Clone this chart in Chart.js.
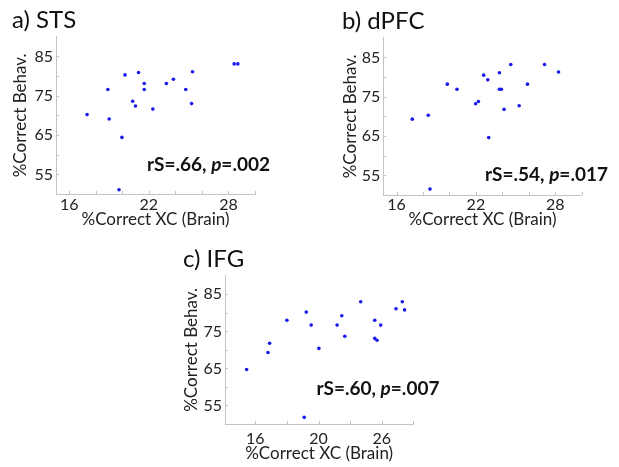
<!DOCTYPE html>
<html><head><meta charset="utf-8">
<script src="https://cdn.jsdelivr.net/npm/chart.js@4.4.1/dist/chart.umd.min.js"></script>
<style>
html,body{margin:0;padding:0;background:#fff;}
body{width:619px;height:467px;position:relative;overflow:hidden;}
canvas{position:absolute;display:block;}
</style></head><body>
<canvas id="ca" width="300" height="230" style="left:0;top:0"></canvas>
<canvas id="cb" width="289" height="230" style="left:330px;top:0"></canvas>
<canvas id="cc" width="290" height="227" style="left:170px;top:240px"></canvas>
<script>
// ---- data ----
const stsX  = [17.34,18.91,19.01,19.97,19.75,20.20,20.78,20.99,21.22,21.65,21.65,22.30,23.32,23.85,24.78,25.22,25.29,28.43,28.71];
const stsY  = [70.2,76.6,69.1,64.4,51.1,80.3,73.6,72.4,80.9,78.1,76.6,71.6,78.1,79.2,76.6,73.0,81.1,83.1,83.1];
const dpfcX = [17.19,18.40,18.53,19.84,20.57,21.98,22.19,22.59,22.90,22.97,23.78,23.78,23.93,24.13,24.64,25.27,25.90,27.19,28.25];
const dpfcY = [69.3,70.3,51.5,78.2,76.9,73.2,73.8,80.5,79.3,64.6,81.1,76.9,76.9,71.8,83.2,72.7,78.2,83.2,81.3];
const ifgX  = [15.31,17.00,17.13,18.50,19.87,20.03,20.42,21.03,22.47,22.84,23.08,24.34,25.45,25.45,25.63,25.92,27.13,27.63,27.81];
const ifgY  = [64.7,69.3,71.8,78.0,51.8,80.2,76.7,70.4,76.7,79.2,73.7,83.0,78.0,73.1,72.6,76.7,81.1,83.0,80.8];

const yTickValues  = [55,60,65,70,75,80,85];
const yTickLabels  = ['55','','65','','75','','85'];
const xTickValuesAB = [16,18,20,22,24,26,28,30];
const xTickLabelsAB = ['16','','','22','','','28',''];
const xTickValuesC  = [16,18.5,21,23.5,26,28.5];
const xTickLabelsC  = ['16','','20','','26',''];

const panelTitles = ['a) STS','b) dPFC','c) IFG'];
const statRs = ['.66','.54','.60'];
const statP  = ['.002','.017','.007'];
const xTitle = '%Correct XC (Brain)';
const yTitle = '%Correct Behav.';

// ---- style ----
const FONT = 'Lato, "Open Sans", sans-serif';
const TXT = '#222';
const AXIS = '#c4c4c4';
const BLUE = 'rgb(25,25,235)';

const tickMarks = { id:'tickMarks', afterDraw(chart){
  const c = chart.ctx, a = chart.chartArea, sx = chart.scales.x, sy = chart.scales.y;
  c.save(); c.strokeStyle = AXIS; c.lineWidth = 1;
  sx.ticks.forEach(t => { const p = Math.round(sx.getPixelForValue(t.value)) + 0.5;
    c.beginPath(); c.moveTo(p, a.bottom); c.lineTo(p, a.bottom - 3); c.stroke(); });
  sy.ticks.forEach(t => { const p = Math.round(sy.getPixelForValue(t.value)) + 0.5;
    c.beginPath(); c.moveTo(a.left, p); c.lineTo(a.left + 3, p); c.stroke(); });
  c.restore();
}};

const annot = { id:'annot', afterDraw(chart, args, o){
  const c = chart.ctx;
  let x = chart.scales.x.getPixelForValue(o.x);
  const y = chart.scales.y.getPixelForValue(o.y);
  c.save(); c.fillStyle = '#111'; c.textBaseline = 'middle'; c.textAlign = 'left';
  o.parts.forEach(p => {
    c.font = (p.italic ? 'italic ' : '') + 'bold ' + o.size + 'px ' + FONT;
    c.fillText(p.t, x, y); x += c.measureText(p.t).width;
  });
  c.restore();
}};

function panel(id, k, cfg){
  new Chart(document.getElementById(id), {
    type: 'scatter',
    data: { datasets: [{
      data: cfg.xs.map((x, i) => ({x: x, y: cfg.ys[i]})),
      pointRadius: 1.8, pointHoverRadius: 1.8, pointBorderWidth: 0,
      backgroundColor: BLUE, borderColor: BLUE
    }]},
    options: {
      responsive: false, animation: false, events: [],
      layout: { padding: cfg.pad },
      plugins: {
        legend: { display: false }, tooltip: { enabled: false },
        title: { display: true, text: panelTitles[k], align: 'start', color: '#111',
          font: { family: FONT, size: 24, weight: 'normal', lineHeight: 1.2 },
          padding: { top: 0, bottom: 2 } },
        annot: { x: cfg.ax, y: cfg.ay, size: 19,
          parts: [{t: 'rS=' + statRs[k] + ', '}, {t: 'p', italic: true}, {t: '=' + statP[k]}] }
      },
      scales: {
        x: { type: 'linear', min: cfg.xmin, max: cfg.xmax,
          afterBuildTicks: s => { s.ticks = cfg.xt.map(v => ({value: v})); },
          afterFit: s => { s.height = cfg.xh; },
          ticks: { autoSkip: false, maxRotation: 0, padding: cfg.xtp, color: TXT,
            font: { family: FONT, size: 16 }, callback: (v, i) => cfg.xl[i] },
          grid: { display: false, drawTicks: false },
          border: { display: true, color: AXIS, width: 1 },
          title: { display: true, text: xTitle, color: TXT,
            font: { family: FONT, size: 17, lineHeight: 1 }, padding: { top: 0, bottom: cfg.xtt } } },
        y: { type: 'linear', min: 50, max: 90,
          afterBuildTicks: s => { s.ticks = yTickValues.map(v => ({value: v})); },
          afterFit: s => { s.width = cfg.yw; },
          ticks: { autoSkip: false, padding: 3, color: TXT,
            font: { family: FONT, size: 16 }, callback: (v, i) => yTickLabels[i] },
          grid: { display: false, drawTicks: false },
          border: { display: true, color: AXIS, width: 1 },
          title: { display: true, text: yTitle, color: TXT,
            font: { family: FONT, size: 17, lineHeight: 1 }, padding: { top: 0, bottom: 0 } } }
      }
    },
    plugins: [tickMarks, annot]
  });
}

panel('ca', 0, { xs: stsX, ys: stsY, xmin: 15, xmax: 30, xt: xTickValuesAB, xl: xTickLabelsAB,
  pad: {left: 12, top: 6, right: 45, bottom: 0}, yw: 44, xh: 36, xtp: 1.5, xtt: 1.5, ax: 21.86, ay: 57.5 });
panel('cb', 1, { xs: dpfcX, ys: dpfcY, xmin: 15, xmax: 30, xt: xTickValuesAB, xl: xTickLabelsAB,
  pad: {left: 12, top: 7, right: 37.3, bottom: 0}, yw: 41.3, xh: 35, xtp: 0, xtt: 2, ax: 22.69, ay: 55.2 });
panel('cc', 2, { xs: ifgX, ys: ifgY, xmin: 13.6, xmax: 28.5, xt: xTickValuesC, xl: xTickLabelsC,
  pad: {left: 13, top: 5, right: 46.7, bottom: 0}, yw: 42, xh: 43, xtp: 5, xtt: 4.5, ax: 20.84, ay: 59.5 });
</script>
</body></html>
